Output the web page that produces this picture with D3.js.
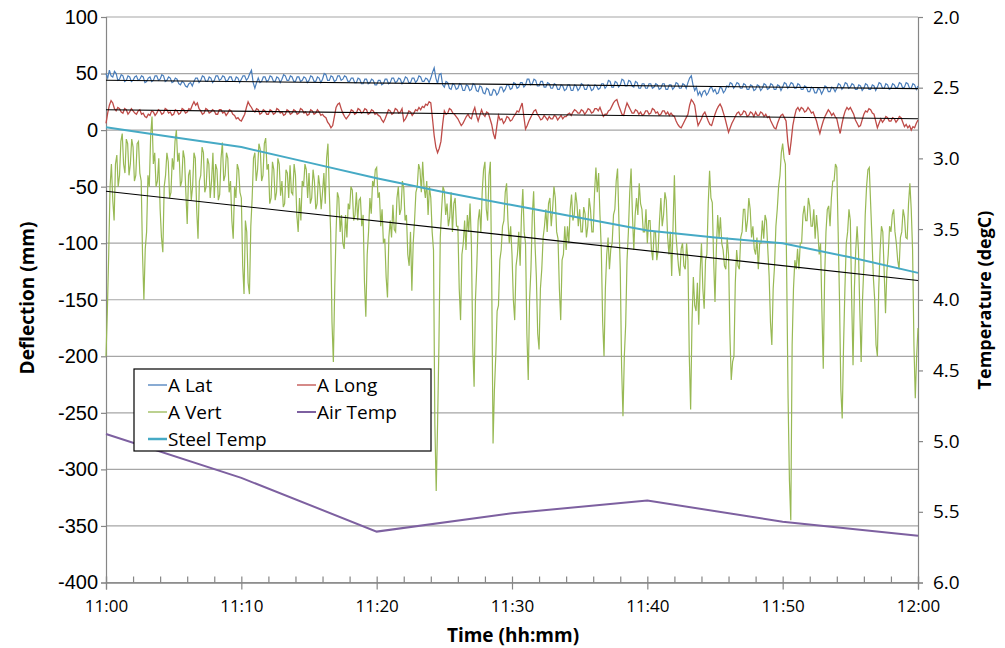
<!DOCTYPE html>
<html>
<head>
<meta charset="utf-8">
<script src="https://cdn.jsdelivr.net/npm/d3@7"></script>
<style>
  body { margin: 0; background: #fff; }
  svg { display: block; }
</style>
</head>
<body>
<div id="chart"></div>
<script>
// A Lat deflection (mm), one reading every 0.125 min from 11:00
const latValues = [
  50, 46, 53, 48, 47, 52, 50, 44,  45, 49, 48, 43, 44, 48, 47, 43,  44, 47, 48, 44, 45, 48, 47, 42,
  43, 46, 47, 43, 44, 48, 48, 44,  45, 49, 48, 43, 44, 47, 46, 42,  43, 46, 45, 41, 40, 43, 42, 39,
  38, 41, 42, 39, 43, 46, 46, 42,  44, 48, 47, 43, 43, 47, 46, 42,  44, 48, 48, 44, 45, 48, 47, 43,
  44, 47, 47, 43, 43, 47, 46, 42,  45, 48, 48, 44, 46, 50, 53, 42,  37, 42, 46, 42, 43, 47, 47, 43,
  44, 48, 47, 43, 43, 47, 46, 42,  45, 49, 48, 44, 44, 48, 47, 43,  43, 47, 47, 43, 44, 47, 46, 42,
  44, 48, 47, 43, 43, 47, 46, 42,  45, 50, 49, 44, 44, 48, 47, 43,  44, 48, 48, 44, 45, 48, 47, 43,
  43, 46, 46, 42, 42, 46, 45, 41,  41, 45, 45, 41, 42, 45, 44, 40,  40, 44, 44, 40, 41, 45, 45, 41,
  42, 46, 46, 42, 43, 46, 45, 41,  43, 47, 46, 42, 42, 46, 46, 42,  44, 48, 47, 43, 43, 46, 45, 42,
  46, 51, 55, 46, 41, 49, 50, 40,  38, 43, 42, 37, 36, 41, 40, 36,  37, 41, 40, 35, 35, 40, 39, 35,
  36, 41, 40, 35, 34, 39, 38, 33,  32, 37, 36, 31, 31, 36, 35, 31,  33, 38, 38, 34, 36, 40, 40, 36,
  37, 42, 41, 37, 38, 42, 42, 38,  40, 45, 45, 40, 41, 45, 44, 39,  39, 43, 43, 38, 38, 42, 41, 37,
  37, 41, 40, 36, 36, 40, 39, 35,  36, 40, 40, 35, 35, 40, 39, 35,  37, 41, 40, 36, 36, 40, 39, 35,
  36, 40, 39, 36, 37, 41, 41, 37,  39, 44, 43, 38, 38, 43, 42, 38,  40, 45, 44, 39, 39, 44, 43, 39,
  38, 43, 42, 37, 37, 41, 41, 37,  37, 41, 41, 37, 38, 41, 40, 36,  37, 41, 41, 36, 36, 40, 40, 36,
  38, 42, 41, 37, 37, 41, 40, 37,  42, 46, 48, 40, 35, 38, 31, 34,  30, 34, 35, 31, 33, 37, 38, 34,
  36, 32, 33, 38, 37, 33, 35, 39,  38, 42, 41, 37, 39, 42, 41, 37,  37, 41, 40, 36, 36, 40, 39, 35,
  36, 40, 39, 35, 37, 41, 40, 36,  37, 41, 40, 36, 36, 40, 39, 35,  38, 42, 41, 37, 39, 42, 41, 37,
  37, 41, 40, 36, 36, 39, 38, 34,  34, 38, 37, 33, 33, 37, 36, 32,  35, 39, 38, 34, 34, 38, 37, 34,
  37, 41, 40, 36, 38, 42, 41, 37,  38, 41, 40, 36, 36, 40, 39, 35,  37, 41, 40, 36, 36, 40, 39, 35,
  38, 42, 41, 37, 37, 41, 40, 36,  37, 41, 40, 37, 38, 42, 41, 37,  38, 42, 41, 37, 37, 41, 40, 36,
  39
];

// A Long deflection (mm), one reading every 0.125 min
const longValues = [
  6, 15, 22, 26, 24, 19, 17, 20,  19, 16, 15, 19, 18, 14, 16, 19,  17, 15, 14, 17, 18, 14, 15, 12,
  11, 14, 13, 17, 16, 13, 15, 18,  17, 14, 15, 19, 18, 15, 16, 13,  14, 18, 17, 14, 15, 19, 18, 15,
  16, 19, 18, 22, 25, 22, 24, 19,  17, 14, 15, 19, 18, 15, 16, 18,  17, 14, 14, 18, 18, 15, 16, 13,
  15, 18, 17, 14, 13, 10, 11, 9,   8, 11, 14, 20, 25, 22, 20, 17,   16, 19, 18, 14, 15, 18, 17, 14,
  14, 18, 17, 14, 15, 19, 18, 15,  16, 13, 14, 18, 17, 14, 15, 18,  17, 14, 15, 19, 18, 15, 16, 13,
  14, 18, 17, 14, 15, 18, 16, 13,  14, 12, 11, 7, 5, 2, 4, 12,      20, 23, 24, 19, 15, 12, 10, 12,
  14, 18, 17, 14, 15, 19, 18, 15,  16, 19, 18, 14, 15, 18, 17, 14,  15, 13, 12, 9, 7, 10, 14, 18,
  17, 14, 15, 19, 18, 15, 16, 19,  8, 10, 13, 17, 16, 13, 15, 18,   17, 20, 18, 21, 20, 23, 22, 25,
  24, 10, -5, -15, -20, -16, -10, 5, 17, 14, 15, 19, 18, 15, 14, 12, 10, 7, 4, 6, 9, 12, 14, 11,
  10, 16, 20, 13, 8, 13, 18, 14,   12, 16, 15, 10, 5, -3, -8, 3,    13, 9, 10, 6, 8, 12, 11, 8,
  9, 12, 14, 17, 16, 20, 24, 12,   1, 4, 8, 11, 14, 17, 18, 14,     12, 9, 10, 13, 11, 9, 12, 10,
  10, 13, 12, 9, 11, 13, 10, 12,   12, 14, 15, 13, 16, 18, 17, 15,  15, 18, 17, 14, 16, 19, 18, 15,
  16, 19, 19, 17, 20, 16, 12, 14,  14, 17, 18, 21, 24, 26, 27, 22,  18, 14, 13, 19, 24, 21, 18, 15,
  15, 18, 17, 14, 16, 13, 14, 17,  17, 14, 15, 19, 18, 15, 16, 13,  14, 17, 17, 14, 16, 13, 15, 13,
  12, 8, 5, 3, 2, 5, 8, 11,        14, 22, 27, 25, 22, 12, 4, 7,    10, 14, 16, 12, 8, 5, 4, 9,
  14, 18, 21, 23, 20, 15, 10, 4,   -2, 2, 6, 9, 12, 15, 16, 13,     14, 17, 16, 12, 13, 16, 15, 12,
  16, 13, 13, 16, 15, 12, 14, 11,  12, 8, 5, 2, 1, 6, 10, 13,       14, 11, 8, -10, -22, -10, 4, 12,
  18, 20, 17, 20, 19, 16, 17, 20,  18, 15, 16, 12, 8, 2, -3, 3,     8, 12, 15, 18, 16, 13, 15, 12,
  10, 3, -3, 5, 12, 17, 20, 18,    20, 17, 14, 9, 6, 3, 4, 9,       14, 17, 16, 19, 18, 15, 14, 8,
  2, 6, 10, 7, 9, 12, 11, 8,       8, 11, 10, 7, 9, 12, 11, 7,      3, 5, 2, 4, 0, 3, 2, 6,
  9
];

// A Vert deflection (mm), one reading every 0.1 min
const vertValues = [
  -200, -160, -110, -50, -30, -62, -80, -30, -22, -50,    -40, -10, -3, -30, -38, -8, -12, -40, -30, -8,
  -15, -45, -40, -12, -10, -38, -45, -110, -150, -105,    -90, -40, -50, -5, 12, -30, -20, -50, -45, -25,
  -70, -95, -108, -50, -40, -20, -28, -60, -55, -25,      -35, -10, 0, -28, -20, -50, -45, -18, -25, -55,
  -83, -40, -35, -62, -50, -20, -25, -70, -96, -45,       -40, -15, -20, -55, -50, -25, -30, -60, -45, -20,
  -60, -30, -35, -62, -57, -25, -11, -45, -40, -20,       -25, -55, -45, -80, -96, -50, -60, -30, -35, -55,
  -60, -120, -145, -80, -90, -135, -145, -85, -60, -25,   -20, -45, -35, -12, -17, -45, -40, -12, -7, -35,
  -30, -65, -60, -28, -35, -62, -55, -25, -30, -58,       -45, -68, -65, -35, -38, -60, -31, -55, -57, -30,
  -40, -75, -90, -60, -80, -45, -50, -30, -35, -60,       -38, -65, -60, -35, -45, -70, -65, -40, -50, -70,
  -55, -38, -65, -25, -12, -55, -90, -170, -205, -140,    -90, -55, -60, -90, -75, -100, -105, -75, -95, -65,
  -70, -50, -53, -80, -75, -55, -80, -62, -60, -85,       -75, -135, -165, -110, -90, -60, -74, -45, -50, -35,
  -33, -60, -55, -85, -70, -100, -96, -130, -148, -95,    -80, -95, -66, -88, -90, -60, -50, -75, -70, -45,
  -51, -80, -75, -110, -120, -90, -142, -100, -80, -55,   -50, -30, -35, -55, -28, -50, -60, -45, -75, -50,
  -60, -90, -106, -260, -319, -260, -190, -95, -70, -50,  -54, -75, -65, -85, -77, -55, -90, -65, -60, -85,
  -85, -140, -168, -110, -100, -80, -106, -75, -90, -65,  -100, -190, -227, -150, -120, -80, -70, -90, -54, -35,
  -28, -70, -80, -40, -28, -130, -277, -230, -200, -160,  -155, -115, -106, -85, -80, -55, -47, -80, -100, -85,
  -110, -150, -168, -120, -110, -90, -120, -75, -52, -90, -100, -180, -221, -150, -123, -75, -54, -100, -130, -180,
  -194, -140, -123, -95, -85, -70, -90, -65, -60, -85,    -70, -50, -60, -90, -96, -140, -168, -115, -110, -85,
  -106, -85, -100, -70, -57, -80, -75, -55, -65, -85,     -70, -90, -90, -68, -74, -95, -85, -60, -70, -90,
  -90, -55, -33, -55, -38, -75, -106, -170, -200, -140,   -110, -95, -123, -105, -100, -75, -70, -45, -34, -80,
  -123, -210, -253, -200, -172, -115, -90, -55, -34, -75, -106, -75, -60, -75, -47, -65, -70, -90, -90, -70,
  -100, -80, -80, -105, -115, -90, -90, -115, -106, -80,  -60, -85, -75, -55, -62, -95, -110, -90, -129, -85,
  -40, -90, -106, -120, -129, -105, -100, -120, -123, -100, -115, -200, -247, -170, -130, -155, -160, -135, -172, -125,
  -100, -140, -158, -115, -110, -65, -36, -60, -64, -115, -152, -105, -75, -95, -77, -100, -106, -120, -123, -95,
  -110, -180, -221, -205, -200, -135, -106, -120, -123, -95, -90, -70, -70, -90, -80, -60, -70, -95, -85, -105,
  -110, -95, -123, -100, -100, -80, -96, -75, -80, -105,  -129, -170, -190, -140, -120, -85, -70, -50, -40, -20,
  -12, -25, -30, -130, -237, -310, -345, -190, -140, -115, -123, -105, -123, -100, -100, -75, -67, -80, -80, -60,
  -67, -85, -85, -70, -96, -75, -90, -110, -100, -160,    -211, -130, -90, -70, -67, -85, -60, -45, -45, -30,
  -33, -90, -150, -230, -255, -190, -140, -100, -90, -70, -80, -150, -208, -140, -106, -85, -106, -160, -205, -150,
  -120, -75, -50, -35, -33, -65, -96, -130, -150, -190,   -200, -140, -106, -85, -90, -125, -162, -125, -110, -85,
  -90, -75, -70, -90, -100, -115, -123, -95, -90, -70,    -77, -95, -96, -65, -47, -70, -106, -190, -237, -200,
  -175
];
const latStep = 0.125, longStep = 0.125, vertStep = 0.1;

// temperatures (degC) on the right axis
const airTimes = [0, 10, 20, 30, 40, 50, 60];
const airTemp = [4.95, 5.26, 5.64, 5.51, 5.42, 5.57, 5.67];
const steelTimes = [0, 5, 10, 15, 20, 25, 30, 35, 40, 45, 50, 55, 60];
const steelTemp = [2.78, 2.85, 2.92, 3.03, 3.14, 3.24, 3.33, 3.42, 3.51, 3.56, 3.60, 3.70, 3.81];

// linear trend lines (value at 11:00, value at 12:00)
const latTrend = [44.1, 36.7];
const longTrend = [18.0, 10.0];
const vertTrend = [-54, -133];

const timeTicks = [0, 10, 20, 30, 40, 50, 60];
const timeLabels = ["11:00", "11:10", "11:20", "11:30", "11:40", "11:50", "12:00"];
const deflTicks = [100, 50, 0, -50, -100, -150, -200, -250, -300, -350, -400];
const tempTicks = [2.0, 2.5, 3.0, 3.5, 4.0, 4.5, 5.0, 5.5, 6.0];

const width = 1005, height = 648;
const margin = {top: 17, right: 87, bottom: 65.5, left: 106};

const svg = d3.select("#chart").append("svg")
  .attr("width", width)
  .attr("height", height);

const x = d3.scaleLinear().domain([0, 60]).range([margin.left, width - margin.right]);
const yL = d3.scaleLinear().domain([-400, 100]).range([height - margin.bottom, margin.top]);
const yR = d3.scaleLinear().domain([2, 6]).range([margin.top, height - margin.bottom]);

// gridlines
svg.append("g").selectAll("line")
  .data(deflTicks)
  .enter().append("line")
  .attr("x1", x(0)).attr("x2", x(60))
  .attr("y1", d => yL(d)).attr("y2", d => yL(d))
  .attr("stroke", "#a6a6a6")
  .attr("stroke-width", 1.2);

// axes
const leftAxis = svg.append("g")
  .attr("transform", `translate(${x(0)},0)`)
  .call(d3.axisLeft(yL).tickValues(deflTicks).tickSize(5).tickPadding(3).tickFormat(d => String(d)));

const rightAxis = svg.append("g")
  .attr("transform", `translate(${x(60)},0)`)
  .call(d3.axisRight(yR).tickValues(tempTicks).tickSize(5).tickPadding(10).tickFormat(d => d.toFixed(1)));

const minorTicks = d3.range(0, 61, 2);
const minorAxis = svg.append("g")
  .attr("transform", `translate(0,${yL(-400)})`)
  .call(d3.axisBottom(x).tickValues(minorTicks).tickSize(-6).tickFormat(""));

const bottomAxis = svg.append("g")
  .attr("transform", `translate(0,${yL(-400)})`)
  .call(d3.axisBottom(x).tickValues(timeTicks).tickSize(7).tickPadding(10)
    .tickFormat((d, i) => timeLabels[i]));

[leftAxis, rightAxis, minorAxis, bottomAxis].forEach(g => {
  g.select(".domain").attr("stroke", "#868686").attr("stroke-width", 1.2);
  g.selectAll(".tick line").attr("stroke", "#868686").attr("stroke-width", 1.2);
  g.selectAll(".tick text").attr("fill", "#000");
});
leftAxis.selectAll(".tick text")
  .style("font-family", "'Liberation Sans', Arial, sans-serif").style("font-size", "20px");
rightAxis.selectAll(".tick text")
  .style("font-family", "'Open Sans', sans-serif").style("font-size", "19px");
bottomAxis.selectAll(".tick text")
  .style("font-family", "'Open Sans', sans-serif").style("font-size", "17px");

// series
const plot = svg.append("g");
const seriesLine = (step, y) => d3.line().x((d, i) => x(i * step)).y(d => y(d));

plot.append("path").datum(latValues)
  .attr("d", seriesLine(latStep, yL))
  .attr("fill", "none").attr("stroke", "#4a7ebb").attr("stroke-width", 1.2);

plot.append("path").datum(longValues)
  .attr("d", seriesLine(longStep, yL))
  .attr("fill", "none").attr("stroke", "#be4b48").attr("stroke-width", 1.3);

plot.append("path").datum(vertValues)
  .attr("d", seriesLine(vertStep, yL))
  .attr("fill", "none").attr("stroke", "#98b954").attr("stroke-width", 1.2);

// trend lines
[latTrend, longTrend, vertTrend].forEach(t => {
  plot.append("line")
    .attr("x1", x(0)).attr("y1", yL(t[0]))
    .attr("x2", x(60)).attr("y2", yL(t[1]))
    .attr("stroke", "#000").attr("stroke-width", 1.1);
});

plot.append("path").datum(airTemp)
  .attr("d", d3.line().x((d, i) => x(airTimes[i])).y(d => yR(d)))
  .attr("fill", "none").attr("stroke", "#7d60a0").attr("stroke-width", 2);

plot.append("path").datum(steelTemp)
  .attr("d", d3.line().x((d, i) => x(steelTimes[i])).y(d => yR(d)))
  .attr("fill", "none").attr("stroke", "#46aac5").attr("stroke-width", 2);

// axis titles
const titleFont = "'Open Sans', sans-serif";
svg.append("text")
  .attr("transform", "translate(34,298) rotate(-90)")
  .attr("text-anchor", "middle")
  .style("font-family", titleFont).style("font-size", "19px").style("font-weight", "bold")
  .text("Deflection (mm)");

svg.append("text")
  .attr("transform", "translate(991,300) rotate(-90)")
  .attr("text-anchor", "middle")
  .style("font-family", titleFont).style("font-size", "18px").style("font-weight", "bold")
  .text("Temperature (degC)");

svg.append("text")
  .attr("x", 513).attr("y", 642)
  .attr("text-anchor", "middle")
  .style("font-family", titleFont).style("font-size", "19px").style("font-weight", "bold")
  .text("Time (hh:mm)");

// legend
const legendItems = [
  {name: "A Lat", color: "#4a7ebb", w: 1.3, col: 0, row: 0},
  {name: "A Long", color: "#be4b48", w: 1.3, col: 1, row: 0},
  {name: "A Vert", color: "#98b954", w: 1.3, col: 0, row: 1},
  {name: "Air Temp", color: "#7d60a0", w: 2, col: 1, row: 1},
  {name: "Steel Temp", color: "#46aac5", w: 2.5, col: 0, row: 2}
];
const legend = svg.append("g").attr("transform", "translate(134,369)");
legend.append("rect")
  .attr("width", 297).attr("height", 82)
  .attr("fill", "#fff").attr("stroke", "#000").attr("stroke-width", 1.2);

const entry = legend.selectAll(".entry")
  .data(legendItems)
  .enter().append("g")
  .attr("transform", d => `translate(${d.col === 0 ? 14 : 163},${16 + d.row * 27})`);
entry.append("line")
  .attr("x1", 0).attr("x2", 19)
  .attr("stroke", d => d.color).attr("stroke-width", d => d.w);
entry.append("text")
  .attr("x", 20).attr("dy", "0.36em")
  .style("font-family", titleFont).style("font-size", "19px")
  .text(d => d.name);
</script>
</body>
</html>
